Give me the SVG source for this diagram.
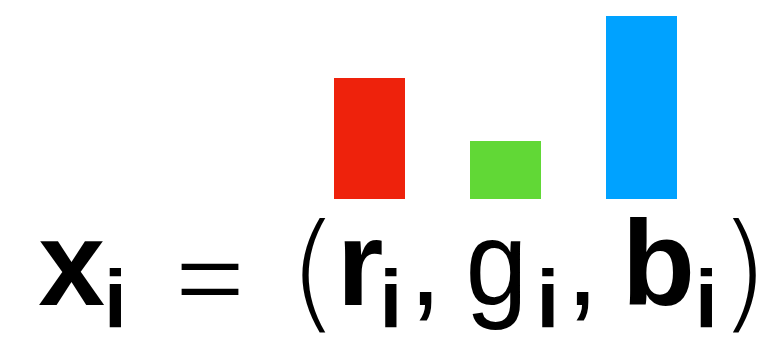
<svg xmlns="http://www.w3.org/2000/svg" width="780" height="337" viewBox="0 0 780 337">
<style>
.m{font-family:"Liberation Sans",Arial,sans-serif;fill:#000;text-anchor:middle}
.b{font-weight:bold;font-size:120px}
.r{font-weight:normal;font-size:120px}
.s{font-weight:bold;font-size:82px}
.t{font-family:"DejaVu Sans","Open Sans",sans-serif;font-weight:200;font-size:129px;fill:#000;text-anchor:middle}
</style>
<rect width="780" height="337" fill="#fff"/>
<g id="bars">
<rect id="bar-r" x="334" y="78" width="71" height="121" fill="#EE220C"/>
<rect id="bar-g" x="470" y="141" width="71" height="58" fill="#61D836"/>
<rect id="bar-b" x="606" y="16" width="71" height="183" fill="#00A2FF"/>
</g>
<g id="formula">
<text class="t" x="210" y="329" style="font-size:158px" textLength="76" lengthAdjust="spacingAndGlyphs">=</text>
<text class="t" x="313.5" y="316">(</text>
<text class="t" x="744" y="316">)</text>
<text class="m b" x="71.5" y="305">x</text>
<text class="m s" x="115.5" y="327">i</text>
<text class="m b" x="360" y="305">r</text>
<text class="m s" x="391" y="327">i</text>
<text class="m r" x="425.5" y="305">,</text>
<text class="m r" x="496.5" y="305" textLength="62" lengthAdjust="spacingAndGlyphs">g</text>
<text class="m s" x="548" y="327">i</text>
<text class="m r" x="582.5" y="305">,</text>
<text class="m b" x="658.5" y="305">b</text>
<text class="m s" x="706.5" y="327">i</text>
</g>
</svg>
